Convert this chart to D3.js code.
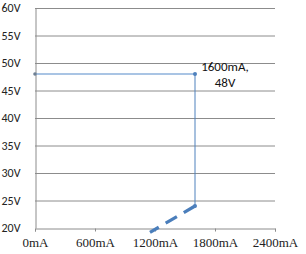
<!DOCTYPE html>
<html>
<head>
<meta charset="utf-8">
<script src="https://cdn.jsdelivr.net/npm/d3@7"></script>
<style>
  body { margin: 0; background: #fff; }
  svg { display: block; }
</style>
</head>
<body>
<svg id="chart" width="306" height="254"></svg>
<script>
// chart values
var xTicks = [0, 600, 1200, 1800, 2400];
var yTicks = [20, 25, 30, 35, 40, 45, 50, 55, 60];
var flatLine = [[0, 48], [1600, 48]];
var dropLine = [[1600, 48], [1600, 24]];
var slopeLine = [[1600, 24], [1150, 19.2]];
var pointLabel = ["1600mA,", "48V"];

var svg = d3.select("#chart");
var margin = {top: 8, right: 31, bottom: 26, left: 35},
  width = 306 - margin.left - margin.right,
  height = 254 - margin.top - margin.bottom;

var x = d3.scaleLinear().domain([0, 2400]).range([margin.left, margin.left + width]);
var y = d3.scaleLinear().domain([20, 60]).range([margin.top + height, margin.top]);

// gridlines
svg.append("g")
  .selectAll("line")
  .data(yTicks.slice(1))
  .enter().append("line")
  .attr("x1", x(0)).attr("x2", x(2400))
  .attr("y1", function(d) { return y(d) + 0.5; })
  .attr("y2", function(d) { return y(d) + 0.5; })
  .style("stroke", "#8c8c8c")
  .style("stroke-width", 1);

// y axis
var yAxis = d3.axisLeft(y).tickValues(yTicks).tickSize(0).tickPadding(0)
  .tickFormat(function(d) { return d + "V"; });
var gy = svg.append("g").attr("transform", "translate(" + (x(0) + 0.5) + ",0)").call(yAxis);
gy.select(".domain").style("stroke", "#8c8c8c");
gy.selectAll("text")
  .attr("x", -34).attr("text-anchor", "start").attr("dy", "0.3em")
  .style("font-family", "Carlito, 'Liberation Sans', 'Open Sans', sans-serif")
  .style("font-size", "12px").style("fill", "#222");

// x axis
var xAxis = d3.axisBottom(x).tickValues(xTicks).tickSize(3).tickPadding(6)
  .tickFormat(function(d) { return d + "mA"; });
var gx = svg.append("g").attr("transform", "translate(0," + (y(20) + 0.5) + ")").call(xAxis);
gx.select(".domain").style("stroke", "#8c8c8c");
gx.selectAll(".tick line").style("stroke", "#8c8c8c");
gx.selectAll("text")
  .style("font-family", "'Liberation Serif', 'DejaVu Serif', serif")
  .style("font-size", "13px").style("fill", "#222");

var line = d3.line()
  .x(function(d) { return x(d[0]); })
  .y(function(d) { return y(d[1]); });

svg.append("path").datum(flatLine)
  .attr("d", line)
  .style("fill", "none").style("stroke", "#a9c4e4").style("stroke-width", 2);

svg.append("path").datum(dropLine)
  .attr("d", line)
  .style("fill", "none").style("stroke", "#4f81bd").style("stroke-width", 1);

svg.append("path").datum(slopeLine)
  .attr("d", line)
  .style("fill", "none").style("stroke", "#4a7ebb").style("stroke-width", 3.2)
  .style("stroke-dasharray", "13,8");

// markers
svg.append("circle").attr("cx", x(flatLine[0][0])).attr("cy", y(flatLine[0][1])).attr("r", 1.8)
  .style("fill", "#6d7f93");
svg.append("circle").attr("cx", x(dropLine[0][0])).attr("cy", y(dropLine[0][1])).attr("r", 2)
  .style("fill", "#4f81bd");
svg.append("circle").attr("cx", x(dropLine[1][0])).attr("cy", y(dropLine[1][1])).attr("r", 2)
  .style("fill", "#4f81bd");

// point label
var lbl = svg.append("text")
  .attr("text-anchor", "middle")
  .style("font-family", "Carlito, 'Liberation Sans', 'Open Sans', sans-serif")
  .style("font-size", "13px").style("fill", "#111");
pointLabel.forEach(function(t, i) {
  lbl.append("tspan").attr("x", x(1900)).attr("y", y(48) - 3 + i * 16).text(t);
});
</script>
</body>
</html>
